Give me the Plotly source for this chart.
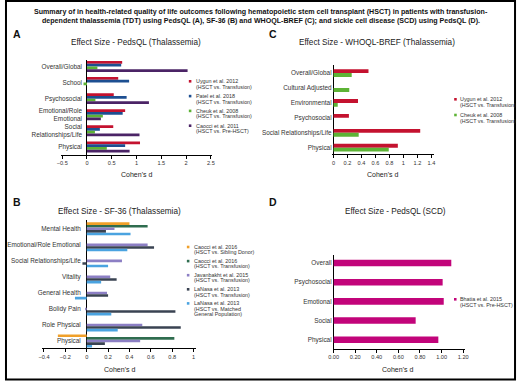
import plotly.graph_objects as go

W, H = 520, 381

# ---------------- Data ----------------
# Panel A: PedsQL (Thalassemia)
a_cats = ["Overall/Global", "School", "Psychosocial", "Emotional/Role<br>Emotional",
          "Social<br>Relationships/Life", "Physical"]
a_names = ["Uygun et al. 2012", "Patel et al. 2018", "Cheuk et al. 2008", "Caocci et al. 2011"]
a_comp = ["(HSCT vs. Transfusion)", "(HSCT vs. Transfusion)", "(HSCT vs. Transfusion)", "(HSCT vs. Pre-HSCT)"]
a_uygun = [0.71, 0.63, 0.54, 0.77, 0.53, 1.07]
a_patel = [0.69, 0.85, 0.80, 0.72, 0.26, 0.77]
a_cheuk = [0.21, -0.07, 0.17, 0.32, 0.16, 0.40]
a_caocci = [2.03, None, 1.25, 0.28, 1.06, 0.86]
a_ticks = [-0.5, 0, 0.5, 1, 1.5, 2, 2.5]

# Panel B: SF-36 (Thalassemia)
b_cats = ["Mental Health", "Emotional/Role Emotional", "Social Relationships/Life", "Vitality",
          "General Health", "Bolidy Pain", "Role Physical", "Physical"]
b_names = ["Caocci et al. 2016", "Caocci et al. 2016", "Javanbakht et al. 2015",
           "LaNasa et al. 2013", "LaNasa et al. 2013"]
b_comp = ["(HSCT vs. Sibling Donor)", "(HSCT vs. Transfusion)", "(HSCT vs. Transfusion)",
          "(HSCT vs. Transfusion)", "(HSCT vs. Matched<br>General Population)"]
b_caocci_sib = [0.40, None, None, None, None, None, None, -0.27]
b_caocci_tr = [0.57, None, None, None, None, None, None, 0.82]
b_javanbakht = [0.26, 0.57, 0.33, 0.22, 0.19, -0.015, 0.52, 0.50]
b_lanasa_tr = [0.18, 0.63, -0.04, 0.28, 0.20, 0.83, 0.88, 0.17]
b_lanasa_gen = [0.41, 0.38, 0.20, 0.135, -0.11, 0.23, 0.29, 0.05]
b_ticks = [-0.4, -0.2, 0, 0.2, 0.4, 0.6, 0.8, 1]

# Panel C: WHOQL-BREF (Thalassemia)
c_cats = ["Overall/Global", "Cultural Adjusted", "Environmental", "Psychosocial",
          "Social Relationships/Life", "Physical"]
c_names = ["Uygun et al. 2012", "Cheuk et al. 2008"]
c_comp = ["(HSCT vs. Transfusion)", "(HSCT vs. Transfusion)"]
c_uygun = [0.50, None, 0.35, 0.22, 1.24, 0.92]
c_cheuk = [0.26, 0.225, 0.06, None, 0.36, 0.79]
c_ticks = [0, 0.2, 0.4, 0.6, 0.8, 1, 1.2, 1.4]

# Panel D: PedsQL (SCD)
d_cats = ["Overall", "Psychosocial", "Emotional", "Social", "Physical"]
d_names = ["Bhatia et al. 2015"]
d_comp = ["(HSCT vs. Pre-HSCT)"]
d_bhatia = [1.09, 1.01, 1.02, 0.76, 0.97]
d_ticks = [0, 0.2, 0.4, 0.6, 0.8, 1.0, 1.2]

# ---------------- Styling ----------------
FONT = "Liberation Sans, Arial, sans-serif"
NARROW = "Liberation Sans Narrow, Arial Narrow, Liberation Sans, sans-serif"
TXT = "#333333"

a_colors = ["#c4122f", "#1d4f91", "#5db335", "#4b2466"]
b_colors = ["#f0a02a", "#2f6d4f", "#8c7fc4", "#3a4352", "#4aa3e0"]
c_colors = ["#c4122f", "#5db335"]
d_colors = ["#c2047a"]


def px(x):
    return x / W


def py(y):
    return 1 - y / H


fig = go.Figure()


def add_bars(cats, series, names, colors, xa, ya, bw):
    n = len(series)
    gw = bw * n
    for i, (vals, nm, col) in enumerate(zip(series, names, colors)):
        fig.add_trace(go.Bar(
            x=vals, y=cats, orientation="h", name=nm,
            marker=dict(color=col, line=dict(width=0)),
            width=bw, offset=gw / 2 - (i + 1) * bw,
            xaxis=xa, yaxis=ya, showlegend=False,
        ))


add_bars(a_cats, [a_uygun, a_patel, a_cheuk, a_caocci], a_names, a_colors, "x", "y", 0.17)
add_bars(b_cats, [b_caocci_sib, b_caocci_tr, b_javanbakht, b_lanasa_tr, b_lanasa_gen],
         b_names, b_colors, "x2", "y2", 0.162)
add_bars(c_cats, [c_uygun, c_cheuk], c_names, c_colors, "x3", "y3", 0.26)
add_bars(d_cats, [d_bhatia], d_names, d_colors, "x4", "y4", 0.34)


def xaxis_cfg(dom, rng, ticks, ya, fmt=None):
    d = dict(domain=[px(dom[0]), px(dom[1])], range=rng, anchor=ya,
             showline=True, linecolor="black", linewidth=1,
             ticks="outside", ticklen=2.5, tickcolor="black", tickwidth=1,
             tickvals=ticks, tickfont=dict(family=FONT, size=5.6, color=TXT),
             zeroline=True, zerolinecolor="black", zerolinewidth=1,
             showgrid=False, fixedrange=True)
    if fmt:
        d["tickformat"] = fmt
    return d


def yaxis_cfg(dom, rng, cats, pos, standoff):
    return dict(domain=[py(dom[1]), py(dom[0])], range=rng, type="category",
                categoryorder="array", categoryarray=list(reversed(cats)),
                anchor="free", position=px(pos), showline=False, ticks="",
                showgrid=False, zeroline=False, ticklabelstandoff=int(standoff),
                tickfont=dict(family=FONT, size=6.4, color=TXT), fixedrange=True)


fig.update_layout(
    xaxis=xaxis_cfg((57.1, 210.6), [-0.52, 2.53], a_ticks, "y"),
    yaxis=yaxis_cfg((59.5, 155), [-0.5, 5.43], a_cats, 83.3, 5),
    xaxis2=xaxis_cfg((37.4, 193.7), [-0.42, 1.02], b_ticks, "y2"),
    yaxis2=yaxis_cfg((220, 348.3), [-0.455, 7.55], b_cats, 83, 6),
    xaxis3=xaxis_cfg((332.6, 435.9), [-0.015, 1.44], c_ticks, "y3"),
    yaxis3=yaxis_cfg((65, 154.3), [-0.44, 5.54], c_cats, 333.7, 2),
    xaxis4=xaxis_cfg((333.4, 467.3), [-0.003, 1.218], d_ticks, "y4", ".2f"),
    yaxis4=yaxis_cfg((255, 349), [-0.485, 4.42], d_cats, 333.7, 2),
)

ann = []
shapes = []


def text(x, y, s, size, color=TXT, family=FONT, anchor="center", bold=False):
    if bold:
        s = "<b>" + s + "</b>"
    ann.append(dict(x=px(x), y=py(y), xref="paper", yref="paper", text=s,
                    showarrow=False, xanchor=anchor, yanchor="middle",
                    font=dict(family=family, size=size, color=color)))


# Main title
text(260, 11.7, "Summary of in health-related quality of life outcomes following hematopoietic stem cell "
     "transplant (HSCT) in patients with transfusion-", 7.1, "#111111", bold=True)
text(260, 20.7, "dependent thalassemia (TDT) using PedsQL (A), SF-36 (B) and WHOQL-BREF (C); "
     "and sickle cell disease (SCD) using PedsQL (D).", 7.1, "#111111", bold=True)

# Panel letters
text(6, 34, "A", 10.5, "#111111", anchor="left", bold=True)
text(266, 34, "C", 10.5, "#111111", anchor="left", bold=True)
text(6, 201.5, "B", 10.5, "#111111", anchor="left", bold=True)
text(266, 201.5, "D", 10.5, "#111111", anchor="left", bold=True)

# Panel titles
text(133.5, 42.7, "Effect Size - PedsQL (Thalassemia)", 8.2, "#222222")
text(378, 42.7, "Effect Size - WHOQL-BREF (Thalassemia)", 8.2, "#222222")
text(116, 211.7, "Effect Size - SF-36 (Thalassemia)", 8.2, "#222222")
text(396.7, 211.7, "Effect Size - PedsQL (SCD)", 8.2, "#222222")

# Axis titles
text(133.5, 175, "Cohen's d", 7, "#222222", family=NARROW)
text(383, 175, "Cohen's d", 7, "#222222", family=NARROW)
text(116, 369, "Cohen's d", 7, "#222222", family=NARROW)
text(399, 369, "Cohen's d", 7, "#222222", family=NARROW)


def legend(xm, xt, y0, step, lstep, names, comps, colors):
    y = y0
    for nm, cp, col in zip(names, comps, colors):
        shapes.append(dict(type="rect", xref="paper", yref="paper",
                           x0=px(xm - 1.3), x1=px(xm + 1.3), y0=py(y + 1.3), y1=py(y - 1.3),
                           fillcolor=col, line=dict(width=0)))
        lines = [nm] + cp.split("<br>")
        for k, ln in enumerate(lines):
            text(xt, y + k * lstep, ln, 5.4, TXT, anchor="left")
        y += step + (len(lines) - 2) * lstep


legend(188, 191.5, 81.3, 14.8, 5.6, a_names, a_comp, a_colors)
legend(457.5, 460.5, 99.3, 15.7, 5.6, c_names, c_comp, c_colors)
legend(186, 189.5, 247, 14.1, 5.2, b_names, b_comp, b_colors)
legend(457.3, 460.5, 299.3, 14, 5.6, d_names, d_comp, d_colors)

# Outer frame
shapes.append(dict(type="rect", xref="paper", yref="paper", x0=px(1), x1=px(518),
                   y0=py(379.5), y1=py(1), line=dict(color="black", width=2),
                   fillcolor="rgba(0,0,0,0)"))

fig.update_layout(
    annotations=ann, shapes=shapes,
    width=W, height=H, autosize=False,
    margin=dict(l=0, r=0, t=0, b=0),
    paper_bgcolor="white", plot_bgcolor="white",
    barmode="overlay", showlegend=False,
    font=dict(family=FONT, color=TXT),
)

fig.write_html("out.html", config={"displayModeBar": False, "staticPlot": True},
               post_script="document.body.style.margin='0';document.body.style.overflow='hidden';")
